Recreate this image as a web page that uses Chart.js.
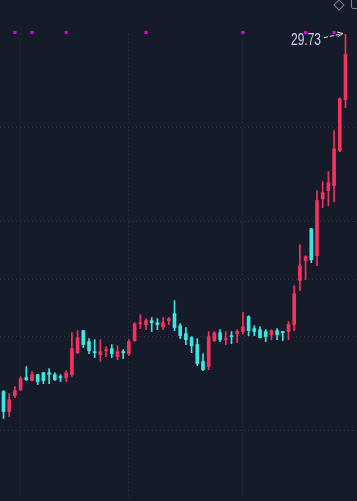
<!DOCTYPE html>
<html><head><meta charset="utf-8">
<script src="https://cdn.jsdelivr.net/npm/chart.js@4"></script>
<style>
html,body{margin:0;padding:0;background:#161b29;}
#wrap{position:relative;width:357px;height:501px;overflow:hidden;background:#161b29;}
#diamond{position:absolute;left:334.7px;top:0.5px;width:6px;height:6px;border:1px solid #7d838f;transform:rotate(45deg);}
#sq{position:absolute;left:351px;top:-4px;width:10px;height:11px;border:1px solid #7d838f;border-radius:2px;}
</style></head>
<body><div id="wrap"><canvas id="c"></canvas><div id="diamond"></div><div id="sq"></div></div>
<script>
const opens  = [10.78,9.72,10.56,10.88,11.52,11.36,11.68,11.78,11.78,11.68,11.57,11.52,11.68,12.84,14.01,13.43,12.90,12.74,12.95,13.06,12.63,12.90,12.79,13.48,14.38,14.33,14.54,14.43,14.22,14.54,14.91,14.27,13.85,13.64,13.27,12.37,12.10,13.48,13.90,13.53,13.74,13.85,13.96,14.75,14.12,14.06,13.96,13.80,14.01,13.96,13.96,14.33,16.66,17.72,19.41,17.98,21.00,21.43,21.69,23.55,26.25];
const highs  = [10.83,10.67,11.04,11.57,12.10,11.84,11.70,11.80,12.00,11.78,11.68,11.89,13.90,14.01,14.03,13.59,13.53,13.53,13.16,13.27,13.21,13.00,13.53,14.43,14.86,14.65,14.70,14.65,14.70,14.70,15.60,14.38,14.17,13.69,13.59,12.79,13.96,13.96,14.06,13.96,13.96,14.06,14.96,14.80,14.27,14.22,14.06,14.06,14.12,13.98,14.49,16.39,18.57,17.98,19.43,21.43,21.91,22.44,24.61,26.35,29.73];
const lows   = [9.35,9.45,10.46,10.83,11.36,11.34,11.15,11.20,11.20,11.36,11.31,11.31,11.57,12.79,13.11,12.79,12.58,12.37,12.63,12.58,12.47,12.53,12.68,13.43,14.12,14.06,13.96,14.06,14.06,14.33,14.01,13.59,13.27,12.84,12.15,11.89,11.94,13.43,13.43,13.27,13.32,13.37,13.85,13.74,13.74,13.62,13.43,13.53,13.53,13.48,13.53,14.01,16.13,16.71,17.61,17.45,20.53,20.63,20.85,23.49,25.83];
const closes = [9.72,10.35,10.83,11.47,11.41,11.68,11.31,11.36,11.68,11.41,11.52,11.78,13.06,13.64,13.27,12.95,12.84,12.90,13.00,12.79,12.90,12.84,13.43,14.38,14.43,14.54,14.43,14.33,14.43,14.65,14.17,13.74,13.53,13.21,12.26,11.94,13.69,13.90,13.53,13.59,13.69,13.96,14.22,14.01,13.96,13.64,13.69,14.01,13.80,13.90,14.33,15.97,17.45,17.93,17.77,20.90,21.32,21.85,23.65,26.30,28.64];
const signalCandles = [2,5,11,25,42,53,58];
const signalLevel = 29.81;
const gridPrices = [24.77,19.79,16.71,13.69,8.71];
const gridCandles = [3,22,42];

const UP = '#f5325f', DOWN = '#3be8e4';
const n = opens.length;
const idx = opens.map((_, i) => i);
const colors = idx.map(i => closes[i] >= opens[i] ? UP : DOWN);

const peakLabel = {
  id: 'peakLabel',
  beforeDatasetsDraw(chart) {
    const {ctx, scales: {x, y}} = chart;
    const i = n - 1;
    const px = x.getPixelForValue(i), py = y.getPixelForValue(highs[i]);
    ctx.save();
    ctx.font = '16px "Liberation Sans Narrow", "Arial Narrow", "Liberation Sans", sans-serif';
    ctx.fillStyle = '#c6d4ec';
    ctx.textAlign = 'right';
    ctx.textBaseline = 'alphabetic';
    ctx.fillText(highs[i].toFixed(2), px - 24.5, py + 10.5, 30);
    ctx.strokeStyle = '#dfe6f2';
    ctx.lineWidth = 1;
    ctx.setLineDash([4, 2]);
    ctx.beginPath(); ctx.moveTo(px - 21.5, py + 3.7); ctx.lineTo(px - 2.5, py - 0.5); ctx.stroke();
    ctx.setLineDash([]);
    ctx.beginPath(); ctx.moveTo(px - 8.5, py - 2); ctx.lineTo(px - 2.5, py - 0.5); ctx.lineTo(px - 8, py + 2.7); ctx.stroke();
    ctx.restore();
  }
};

new Chart(document.getElementById('c'), {
  type: 'bar',
  data: {
    datasets: [
      {label: 'signals', type: 'line', data: signalCandles.map(i => ({x: i, y: signalLevel})),
       showLine: false, pointStyle: 'rect', pointRadius: 2.2, pointHoverRadius: 2.2,
       pointBackgroundColor: '#e000e6', pointBorderWidth: 0, clip: false, order: 0},
      {label: 'wick', data: idx.map(i => ({x: i, y: [lows[i], highs[i]]})),
       backgroundColor: colors, barThickness: 1, grouped: false, borderWidth: 0, order: 2},
      {label: 'body', data: idx.map(i => ({x: i, y: [opens[i], closes[i]]})),
       backgroundColor: colors, barThickness: 3, grouped: false, borderWidth: 0, minBarLength: 1, order: 1}
    ]
  },
  options: {
    responsive: true, maintainAspectRatio: false, animation: false,
    layout: {autoPadding: false, padding: {top: 34, left: 0, right: 0, bottom: 0}},
    plugins: {legend: {display: false}, tooltip: {enabled: false}},
    scales: {
      x: {type: 'linear', min: -0.614, max: 62.02, offset: false,
          grid: {offset: false, drawTicks: false, color: '#2e3546', lineWidth: 1},
          border: {display: false, dash: [1, 3]},
          ticks: {display: false},
          afterBuildTicks: s => { s.ticks = gridCandles.map(v => ({value: v})); }},
      y: {type: 'linear', min: 4.98, max: 29.73,
          grid: {drawTicks: false, color: '#2e3546', lineWidth: 1},
          border: {display: false, dash: [1, 3]},
          ticks: {display: false},
          afterBuildTicks: s => { s.ticks = gridPrices.map(v => ({value: v})); }}
    }
  },
  plugins: [peakLabel]
});
</script>
</body></html>
